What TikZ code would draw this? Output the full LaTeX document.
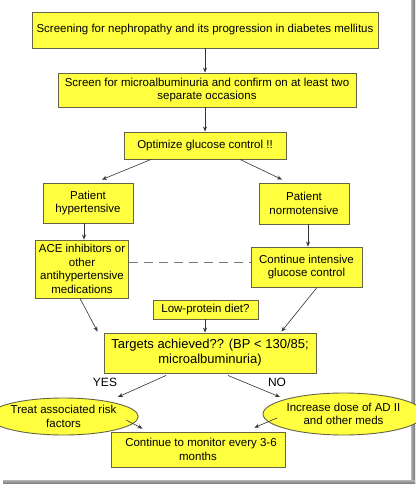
\documentclass[tikz,border=0pt]{standalone}
\usepackage{fontspec}
\setmainfont{Liberation Sans}
\usetikzlibrary{arrows.meta,shapes.geometric}
\definecolor{boxfill}{RGB}{255,255,64}
\definecolor{boxline}{RGB}{100,100,70}
\definecolor{arrowc}{RGB}{50,50,50}
\definecolor{dashc}{RGB}{120,120,120}
\tikzset{
  box/.style={draw=boxline, fill=boxfill, line width=0.9pt, inner sep=0pt, align=center,
    font=\fontsize{11.5}{13.5}\selectfont},
  oval/.style={box, ellipse},
  conn/.style={draw=arrowc, line width=0.6pt, -{Stealth[length=5pt,width=4pt]}},
  lbl/.style={font=\fontsize{12}{14}\selectfont, inner sep=0pt}
}
\begin{document}
\begin{tikzpicture}[x=1pt,y=-1pt]
\useasboundingbox (0,0) rectangle (415,484);
\fill[white] (0,0) rectangle (415,484);
% frame shadow
\shade[left color=gray!60, right color=gray!90!black] (411,0) rectangle (415,484);
\shade[top color=gray!60, bottom color=gray!90!black] (3,480) rectangle (415,484);

\node[box, minimum width=346pt, minimum height=36pt] (b1) at (205,30)
  {Screening for nephropathy and its progression in diabetes mellitus};
\node[box, minimum width=298pt, minimum height=34pt] (b2) at (207,90)
  {Screen for microalbuminuria and confirm on at least two\\separate occasions};
\node[box, minimum width=162pt, minimum height=27pt] (b3) at (205,145.5)
  {Optimize glucose control !!};
\node[box, minimum width=90pt, minimum height=40pt] (hyp) at (88,203)
  {Patient\\hypertensive};
\node[box, minimum width=90pt, minimum height=41pt] (nor) at (304,203.5)
  {Patient\\normotensive};
\node[box, minimum width=93pt, minimum height=58pt] (ace) at (82,269)
  {ACE inhibitors or\\other\\antihypertensive\\medications};
\node[box, minimum width=111pt, minimum height=40pt] (cont) at (306.5,267)
  {Continue intensive\\glucose control};
\node[box, minimum width=105pt, minimum height=19pt] (low) at (205.5,309.5)
  {Low-protein diet?};
\node[box, minimum width=212pt, minimum height=40pt, font=\fontsize{13}{15}\selectfont] (tgt) at (210,353)
  {Targets achieved?? (BP < 130/85;\\microalbuminuria)};
\node[oval, minimum width=127pt, minimum height=37pt] (le) at (63.5,416.5)
  {Treat associated risk\\factors};
\node[oval, minimum width=131pt, minimum height=42pt] (re) at (343.5,414)
  {Increase dose of AD II\\and other meds};
\node[box, minimum width=174pt, minimum height=35pt] (bot) at (198,449.5)
  {\hspace*{6pt}Continue to monitor every 3-6\\months};

\node[lbl] (yes) at (105,382) {YES};
\node[lbl] (no) at (277,382) {NO};

\draw[conn] (b1.south) -- (b2.north -| b1.south);
\draw[conn] (b2.south -| b1.south) -- (b3.north);
\draw[conn] ([xshift=-54pt]b3.south) -- ([xshift=14pt,yshift=3pt]hyp.north);
\draw[conn] ([xshift=35pt]b3.south) -- ([xshift=-22pt,yshift=3pt]nor.north);
\draw[conn] ([xshift=-4pt]hyp.south) -- ([xshift=-4pt]hyp.south |- ace.north);
\draw[conn] ([xshift=4pt]nor.south) -- ([xshift=4pt]nor.south |- cont.north);
\draw[dashc, line width=0.7pt, dash pattern=on 9pt off 6pt] (ace.east |- 0,262) -- (cont.west |- 0,262);
\draw[conn] ([xshift=-2pt]ace.south) -- ([xshift=-6pt,yshift=1pt]tgt.north west);
\draw[conn] ([xshift=10.5pt]cont.south) -- ([xshift=-35pt,yshift=1pt]tgt.north east);
\draw[conn] (low.south -| b1.south) -- (tgt.north -| b1.south);
\draw[conn] ([xshift=-44pt,yshift=-2pt]tgt.south) -- ([xshift=54.5pt,yshift=19.5pt]le.center);
\draw[conn] ([xshift=18pt,yshift=-2pt]tgt.south) -- ([xshift=-63.5pt,yshift=17pt]re.center);
\draw[conn] ([xshift=62.5pt,yshift=-3.5pt]le.center) -- ([xshift=32pt,yshift=3pt]bot.north west);
\draw[conn] ([xshift=-66.5pt,yshift=-4pt]re.center) -- ([xshift=-31pt,yshift=4pt]bot.north east);
\end{tikzpicture}
\end{document}
